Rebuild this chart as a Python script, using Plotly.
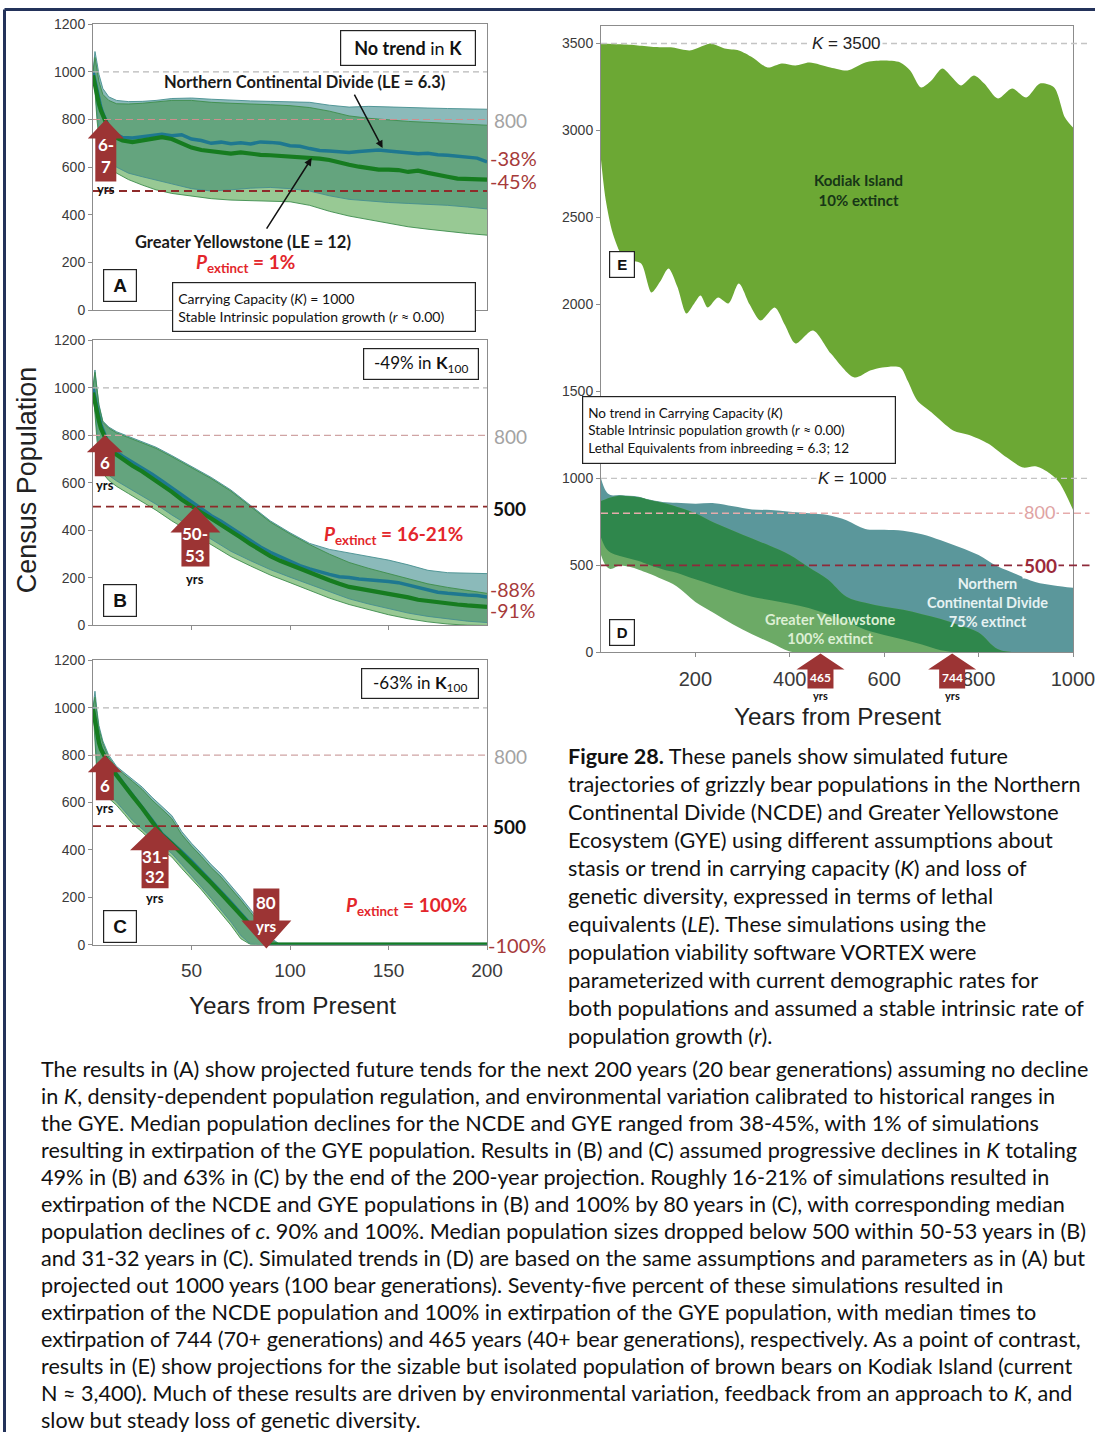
import numpy as np
import plotly.graph_objects as go

# Figure canvas; positions below are given in window pixels and mapped onto the canvas.
W, H = 1117, 1440
X_SPAN = 1095       # window pixels spanned by the canvas width
Y_SCALE = 0.98835   # window pixels per canvas pixel vertically
Y_OFF = 8           # body margin above the canvas (canvas pixels)


def px(x):
    return x / X_SPAN


def py(y):
    return 1 - (y / Y_SCALE - Y_OFF) / H


# ---------------------------------------------------------------- colours
TEAL_ONLY = "#8bbaba"
OVERLAP = "#64a47e"
GYE_ONLY = "#98c994"
TEAL_EDGE = "#468f90"
GREEN_EDGE = "#3d8c4d"
NCDE_LINE = "#1e7890"
GYE_LINE = "#167c20"
ARROW_RED = "#9c3434"
PCT_RED = "#a63a3a"
P_RED = "#e3262b"
D_TEAL = "#5b979b"
D_DARK = "#2f874c"
D_LIGHT = "#6caa66"
KODIAK = "#6ca834"

# ---------------------------------------------------------------- panel A: no trend in K
years_band_A = [0, 1, 2, 3, 5, 8, 12, 18, 25, 32, 40, 50, 60, 70, 80, 90, 100, 110, 120, 130, 140, 150, 160, 170, 180, 190, 200]
ncde_hi_A = [1000, 1085, 1040, 990, 930, 895, 880, 875, 876, 880, 888, 890, 885, 880, 878, 876, 875, 872, 860, 852, 855, 852, 848, 848, 846, 845, 843]
ncde_lo_A = [1000, 940, 830, 750, 665, 625, 600, 575, 560, 545, 530, 510, 500, 505, 512, 515, 510, 500, 480, 465, 458, 452, 448, 445, 440, 433, 425]
gye_hi_A = [1000, 1060, 1010, 960, 905, 880, 866, 865, 868, 875, 880, 880, 872, 868, 866, 862, 858, 850, 835, 815, 805, 798, 792, 788, 784, 780, 776]
gye_lo_A = [1000, 920, 800, 720, 640, 600, 575, 548, 525, 505, 490, 478, 468, 462, 460, 458, 455, 440, 415, 395, 380, 365, 350, 340, 330, 322, 315]

years_med = [0, 1, 2, 3, 4, 5, 6, 7, 8, 10, 15, 20, 25, 30, 35, 40, 45, 50, 55, 60, 65, 70, 75, 80, 85, 90, 95, 100,
             105, 110, 115, 120, 125, 130, 135, 140, 145, 150, 155, 160, 165, 170, 175, 180, 185, 190, 195, 200]
ncde_med_A = [1000, 960, 920, 880, 850, 825, 805, 790, 770, 745,
              724, 722, 728, 735, 738, 732, 736, 718, 712, 700,
              705, 698, 702, 697, 706, 704, 700, 690, 688, 678,
              670, 668, 666, 662, 666, 670, 672, 668, 664, 660,
              656, 658, 652, 650, 646, 643, 638, 622]
gye_med_A = [985, 940, 900, 865, 838, 818, 800, 780, 760, 730,
             712, 705, 712, 722, 726, 718, 700, 682, 672, 668,
             660, 657, 662, 656, 652, 650, 648, 645, 642, 640,
             636, 630, 618, 610, 602, 595, 590, 590, 588, 580,
             585, 576, 570, 560, 552, 550, 552, 548]

# ---------------------------------------------------------------- panel B: -49% in K
years_band_B = years_band_A
ncde_hi_B = [1000, 1075, 1000, 930, 860, 835, 815, 795, 775, 750, 715, 670, 623, 570, 505, 440, 390, 345, 320, 305, 290, 275, 255, 232, 222, 220, 218]
gye_hi_B = [1000, 1065, 995, 925, 855, 830, 810, 790, 770, 745, 710, 665, 618, 565, 500, 435, 385, 340, 300, 265, 240, 218, 195, 175, 160, 148, 135]
ncde_lo_B = [1000, 900, 800, 730, 662, 632, 608, 578, 545, 510, 465, 415, 362, 312, 272, 235, 203, 172, 140, 112, 90, 70, 52, 38, 27, 18, 12]
gye_lo_B = [1000, 880, 780, 710, 640, 610, 585, 555, 520, 485, 440, 390, 340, 290, 250, 212, 180, 148, 115, 88, 65, 45, 28, 15, 6, 1, 0]
ncde_med_B = [1000, 955, 915, 878, 845, 822, 800, 782, 765, 742,
              712, 688, 662, 636, 608, 578, 548, 518, 488, 462,
              438, 410, 382, 355, 330, 308, 288, 270, 252, 238,
              225, 215, 205, 202, 195, 192, 190, 185, 180, 170,
              160, 152, 140, 135, 130, 128, 126, 120]
gye_med_B = [980, 935, 895, 860, 830, 812, 795, 775, 755, 730,
             700, 672, 648, 620, 592, 562, 530, 500, 475, 450,
             425, 398, 370, 342, 316, 292, 272, 255, 238, 222,
             205, 190, 175, 162, 155, 148, 140, 135, 128, 118,
             108, 102, 98, 92, 88, 84, 80, 78]

# ---------------------------------------------------------------- panel C: -63% in K
years_band_C = [0, 1, 2, 3, 5, 8, 12, 16, 20, 25, 30, 35, 40, 45, 50, 55, 60, 65, 70, 75, 80, 85, 90, 95, 100, 150, 200]
ncde_hi_C = [1000, 1070, 990, 925, 860, 800, 752, 725, 700, 665, 622, 585, 545, 478, 428, 385, 338, 298, 250, 200, 148, 95, 30, 0, 0, 0, 0]
gye_hi_C = [1000, 1045, 975, 912, 850, 790, 745, 716, 690, 655, 610, 572, 532, 465, 416, 372, 325, 285, 238, 188, 136, 84, 20, 0, 0, 0, 0]
ncde_lo_C = [1000, 900, 740, 690, 660, 632, 602, 565, 525, 488, 450, 418, 385, 338, 292, 246, 196, 146, 96, 38, 2, 0, 0, 0, 0, 0, 0]
gye_lo_C = [1000, 880, 720, 675, 645, 618, 588, 550, 510, 475, 435, 402, 370, 322, 278, 232, 182, 132, 82, 25, 0, 0, 0, 0, 0, 0, 0]
years_med_C = [0, 1, 2, 3, 4, 5, 6, 7, 8, 10, 15, 20, 25, 30, 35, 40, 45, 50, 55, 60, 65, 70, 75, 80, 85, 90, 95, 100, 150, 200]
ncde_med_C = [1000, 945, 895, 858, 830, 812, 798, 782, 768, 742, 685, 632, 582, 525, 468, 432, 392, 352, 310, 265, 222, 178, 130, 86, 38, 2, 0, 0, 0, 0]
gye_med_C = [995, 940, 890, 852, 825, 808, 794, 778, 762, 736, 680, 628, 576, 518, 462, 426, 386, 346, 304, 260, 216, 172, 124, 80, 32, 0, 0, 0, 0, 0]

# ---------------------------------------------------------------- panel D: 1000-year projection
years_D = [0, 10, 20, 40, 60, 80, 100, 130, 160, 200, 240, 280, 320, 360, 400, 440, 480, 520, 560, 600,
           640, 680, 720, 760, 800, 840, 880, 920, 960, 1000]
ncde_hi_D = [1000, 930, 905, 905, 900, 895, 880, 865, 860, 855, 858, 840, 822, 818, 808, 800, 790, 760, 710, 705,
             700, 680, 645, 605, 560, 495, 450, 405, 385, 372]
ncde_lo_D = [660, 600, 575, 555, 540, 525, 505, 478, 458, 420, 385, 350, 320, 300, 280, 255, 220, 180, 130, 100,
             75, 45, 12, 0, 0, 0, 0, 0, 0, 0]
gye_hi_D = [870, 880, 890, 900, 898, 892, 878, 860, 838, 800, 745, 700, 655, 610, 560, 490, 420, 320, 285, 262,
            245, 220, 192, 155, 115, 20, 0, 0, 0, 0]
gye_lo_D = [560, 500, 480, 500, 492, 475, 455, 420, 380, 290, 225, 160, 105, 55, 5, 0, 0, 0, 0, 0,
            0, 0, 0, 0, 0, 0, 0, 0, 0, 0]

# ---------------------------------------------------------------- panel E: Kodiak Island
kodiak_hi_years = [0, 40, 78, 115, 152, 188, 210, 233, 262, 292, 321, 353, 383, 412, 442, 486, 522, 560, 596, 634,
                   655, 678, 700, 723, 744, 763, 790, 812, 841, 871, 901, 930, 960, 983, 1000]
kodiak_hi = [3500, 3495, 3489, 3480, 3477, 3460, 3480, 3500, 3471, 3460, 3420, 3362, 3385, 3374, 3391, 3362, 3345,
             3391, 3402, 3391, 3345, 3247, 3287, 3356, 3305, 3259, 3316, 3270, 3184, 3241, 3190, 3270, 3247, 3075, 3017]
kodiak_lo_years = [0, 10, 25, 45, 63, 85, 107, 125, 143, 162, 181, 196, 211, 226, 248, 270, 292, 315, 338, 368,
                   390, 412, 449, 487, 537, 570, 596, 634, 650, 670, 700, 746, 780, 820, 860, 894, 920, 945, 970, 1000]
kodiak_lo = [2830, 2600, 2408, 2280, 2253, 2236, 2069, 2130, 2207, 2100, 1948, 2000, 2052, 1983, 2040, 2006, 2121,
             2000, 1908, 1983, 1880, 1776, 1851, 1718, 1580, 1620, 1638, 1638, 1560, 1448, 1380, 1276, 1250, 1201,
             1120, 1063, 1070, 1040, 980, 820]

fig = go.Figure()


def add_fill(xs, lo, hi, color, xa, ya, shape="linear"):
    fig.add_trace(go.Scatter(x=xs, y=lo, mode="lines", line=dict(width=0, shape=shape),
                             hoverinfo="skip", showlegend=False, xaxis=xa, yaxis=ya))
    fig.add_trace(go.Scatter(x=xs, y=hi, mode="lines", line=dict(width=0, shape=shape), fill="tonexty",
                             fillcolor=color, hoverinfo="skip", showlegend=False, xaxis=xa, yaxis=ya))


def add_line(xs, ys, color, width, xa, ya, shape="linear"):
    fig.add_trace(go.Scatter(x=xs, y=ys, mode="lines", line=dict(color=color, width=width, shape=shape),
                             hoverinfo="skip", showlegend=False, xaxis=xa, yaxis=ya))


def add_panel(xs, n_hi, n_lo, g_hi, g_lo, xm, n_med, g_med, xa, ya):
    n_hi, n_lo, g_hi, g_lo = map(np.asarray, (n_hi, n_lo, g_hi, g_lo))
    ov_lo = np.maximum(n_lo, g_lo)
    ov_hi = np.maximum(np.minimum(n_hi, g_hi), ov_lo)
    add_fill(xs, n_lo, n_hi, TEAL_ONLY, xa, ya)
    add_fill(xs, g_lo, g_hi, GYE_ONLY, xa, ya)
    add_fill(xs, ov_lo, ov_hi, OVERLAP, xa, ya)
    for arr in (n_hi, n_lo):
        add_line(xs, arr, TEAL_EDGE, 0.9, xa, ya)
    for arr in (g_hi, g_lo):
        add_line(xs, arr, GREEN_EDGE, 0.9, xa, ya)
    add_line(xm, n_med, NCDE_LINE, 3.5, xa, ya)
    add_line(xm, g_med, GYE_LINE, 4.2, xa, ya)


add_panel(years_band_A, ncde_hi_A, ncde_lo_A, gye_hi_A, gye_lo_A, years_med, ncde_med_A, gye_med_A, "x", "y")
add_panel(years_band_B, ncde_hi_B, ncde_lo_B, gye_hi_B, gye_lo_B, years_med, ncde_med_B, gye_med_B, "x2", "y2")
add_panel(years_band_C, ncde_hi_C, ncde_lo_C, gye_hi_C, gye_lo_C, years_med_C, ncde_med_C, gye_med_C, "x3", "y3")

# panel D: NCDE only (teal), GYE only (light green), both (dark green)
dn_hi, dn_lo, dg_hi, dg_lo = map(np.asarray, (ncde_hi_D, ncde_lo_D, gye_hi_D, gye_lo_D))
d_ov_lo = np.maximum(dn_lo, dg_lo)
d_ov_hi = np.maximum(np.minimum(dn_hi, dg_hi), d_ov_lo)
add_fill(years_D, dn_lo, dn_hi, D_TEAL, "x4", "y4", "spline")
add_fill(years_D, dg_lo, dg_hi, D_LIGHT, "x4", "y4", "spline")
add_fill(years_D, d_ov_lo, d_ov_hi, D_DARK, "x4", "y4", "spline")

# panel E: Kodiak band
fig.add_trace(go.Scatter(x=kodiak_lo_years, y=kodiak_lo, mode="lines", line=dict(width=0, shape="spline", smoothing=0.8),
                         hoverinfo="skip", showlegend=False, xaxis="x4", yaxis="y4"))
fig.add_trace(go.Scatter(x=kodiak_hi_years, y=kodiak_hi, mode="lines", line=dict(width=0, shape="spline", smoothing=0.8),
                         fill="tonexty", fillcolor=KODIAK, hoverinfo="skip", showlegend=False, xaxis="x4", yaxis="y4"))

# ---------------------------------------------------------------- axes
RANGES = {"x": (0, 200), "y": (0, 1200), "x2": (0, 200), "y2": (0, 1200),
          "x3": (0, 200), "y3": (0, 1200), "x4": (0, 1000), "y4": (0, 3600)}


def dom(ax, v):
    lo, hi = RANGES[ax]
    return (v - lo) / (hi - lo)


AX_LINE = "#8c8c8c"
TICK_FONT = dict(family="Liberation Sans, Arial", size=14, color="#3a3a3a")
base = dict(showline=True, linecolor=AX_LINE, linewidth=1, mirror=True, ticks="outside", ticklen=4,
            tickcolor=AX_LINE, showgrid=False, zeroline=False, tickfont=TICK_FONT, fixedrange=True)

x_left = [px(93), px(487)]
layout_axes = {
    "xaxis": dict(base, domain=x_left, anchor="y", range=list(RANGES["x"]), tickvals=[50, 100, 150], showticklabels=False),
    "yaxis": dict(base, domain=[py(310), py(24)], anchor="x", range=list(RANGES["y"]), tickvals=list(range(0, 1201, 200))),
    "xaxis2": dict(base, domain=x_left, anchor="y2", range=list(RANGES["x2"]), tickvals=[50, 100, 150], showticklabels=False),
    "yaxis2": dict(base, domain=[py(625), py(340)], anchor="x2", range=list(RANGES["y2"]), tickvals=list(range(0, 1201, 200))),
    "xaxis3": dict(base, domain=x_left, anchor="y3", range=list(RANGES["x3"]), tickvals=[50, 100, 150, 200],
                   tickfont=dict(TICK_FONT, size=19), ticklabelstandoff=5),
    "yaxis3": dict(base, domain=[py(944), py(660)], anchor="x3", range=list(RANGES["y3"]), tickvals=list(range(0, 1201, 200))),
    "xaxis4": dict(base, domain=[px(601), px(1073)], anchor="y4", range=list(RANGES["x4"]),
                   tickvals=[200, 400, 600, 800, 1000], tickfont=dict(TICK_FONT, size=20), ticklabelstandoff=5),
    "yaxis4": dict(base, domain=[py(652), py(26)], anchor="x4", range=list(RANGES["y4"]), tickvals=list(range(0, 3501, 500))),
}

# ---------------------------------------------------------------- reference lines
shapes = []


def hline(xa, ya, y, color, width, dash, x1=1.0):
    shapes.append(dict(type="line", xref=f"{xa} domain", yref=ya, x0=0, x1=x1, y0=y, y1=y,
                       line=dict(color=color, width=width, dash=dash), layer="above"))


for xa, ya in (("x", "y"), ("x2", "y2"), ("x3", "y3")):
    hline(xa, ya, 1000, "#b8b8b8", 1.3, "6px,4px")
    hline(xa, ya, 800, "#d0a4a4" if xa != "x" else "#cf8f8f", 1.3 if xa != "x" else 1.0, "7px,4px")
    hline(xa, ya, 500, "#8e2a2a", 1.8, "8px,5px")

hline("x4", "y4", 3500, "#c4c4c4", 1.3, "6px,4px", 1.035)
hline("x4", "y4", 1000, "#c4c4c4", 1.3, "6px,4px", 1.035)
hline("x4", "y4", 800, "#e6abab", 1.5, "7px,4px", 1.035)
hline("x4", "y4", 500, "#8e2a3a", 1.8, "8px,5px", 1.035)


def block_arrow(xa, ya, x, y, hw, sw, hh, total, down=False, tip=0):
    """Block arrow anchored at a data point, sized in pixels (not clipped to the plot area)."""
    s = 1 if down else -1
    pts = [(0, tip), (hw, tip + s * hh), (sw, tip + s * hh), (sw, tip + s * total), (-sw, tip + s * total),
           (-sw, tip + s * hh), (-hw, tip + s * hh)]
    path = "M" + " L".join(f"{a},{b}" for a, b in pts) + " Z"
    shapes.append(dict(type="path", xref=f"{xa} domain", yref=f"{ya} domain", xsizemode="pixel", ysizemode="pixel",
                       xanchor=dom(xa, x), yanchor=dom(ya, y), path=path, fillcolor=ARROW_RED,
                       line=dict(width=0), layer="above"))


annotations = []


def arrow_text(xa, ya, x, y, text, shift, color="white", size=17):
    annotations.append(dict(xref=xa, yref=ya, x=x, y=y, yshift=shift, text=f"<b>{text}</b>", showarrow=False,
                            font=dict(family="Lato", size=size, color=color)))


# median-crossing arrows
block_arrow("x", "y", 6.5, 800, 18, 10.5, 19, 62)
arrow_text("x", "y", 6.5, 800, "6-", -25)
arrow_text("x", "y", 6.5, 800, "7", -47)
arrow_text("x", "y", 6.5, 800, "yrs", -70, "#111", 13)

block_arrow("x2", "y2", 6, 800, 18, 10, 17, 41)
arrow_text("x2", "y2", 6, 800, "6", -27)
arrow_text("x2", "y2", 6, 800, "yrs", -50, "#111", 13)
block_arrow("x2", "y2", 52, 500, 25, 14, 26, 60)
arrow_text("x2", "y2", 52, 500, "50-", -27)
arrow_text("x2", "y2", 52, 500, "53", -49)
arrow_text("x2", "y2", 52, 500, "yrs", -72, "#111", 13)

block_arrow("x3", "y3", 6, 800, 17, 9, 17, 45)
arrow_text("x3", "y3", 6, 800, "6", -30)
arrow_text("x3", "y3", 6, 800, "yrs", -53, "#111", 13)
block_arrow("x3", "y3", 31.5, 500, 25, 13.5, 24, 62)
arrow_text("x3", "y3", 31.5, 500, "31-", -30)
arrow_text("x3", "y3", 31.5, 500, "32", -50)
arrow_text("x3", "y3", 31.5, 500, "yrs", -72, "#111", 13)
block_arrow("x3", "y3", 88, 0, 25, 13, 28, 60, down=True, tip=-4)
arrow_text("x3", "y3", 88, 0, "80", 42)
arrow_text("x3", "y3", 88, 0, "yrs", 19, "white", 15)

block_arrow("x4", "y4", 465, 0, 24, 13, 16, 35, tip=-1)
arrow_text("x4", "y4", 465, 0, "465", -25, "white", 12)
arrow_text("x4", "y4", 465, 0, "yrs", -43, "#111", 11)
block_arrow("x4", "y4", 744, 0, 24, 13, 16, 35, tip=-1)
arrow_text("x4", "y4", 744, 0, "744", -25, "white", 12)
arrow_text("x4", "y4", 744, 0, "yrs", -43, "#111", 11)

# page frame
shapes.append(dict(type="line", xref="paper", yref="paper", x0=px(4.5), x1=1, y0=py(9.5), y1=py(9.5),
                   line=dict(color="#23325a", width=3)))
shapes.append(dict(type="line", xref="paper", yref="paper", x0=px(4.5), x1=px(4.5), y0=py(9.5), y1=0,
                   line=dict(color="#23325a", width=3)))


# ---------------------------------------------------------------- text labels
def label(x, y, text, size=15, color="#111", family="Lato", xanchor="center", **kw):
    annotations.append(dict(xref="paper", yref="paper", x=px(x), y=py(y), text=text, showarrow=False,
                            xanchor=xanchor, yanchor="middle", font=dict(family=family, size=size, color=color), **kw))


def boxed(x, y, text, w, h, size=17, family="Lato", align="center", pad=2):
    label(x, y, text, size=size, family=family, bordercolor="#222", borderwidth=1.2, borderpad=pad,
          bgcolor="white", width=w, height=h, align=align)


# panel A
boxed(408, 48, "<b>No trend</b> in <b>K</b>", 130, 30, size=18)
label(304, 82, "<b>Northern Continental Divide (LE = 6.3)</b>", 16.5, "#1a1a1a")
label(243, 242, "<b>Greater Yellowstone (LE = 12)</b>", 16.5, "#1a1a1a")
label(245, 263, "<b><i>P</i><sub>extinct</sub> = 1%</b>", 19, P_RED)
boxed(120, 285, "<b>A</b>", 28, 27, size=19, family="Liberation Sans")
boxed(324, 307, "Carrying Capacity (<i>K</i>) = 1000<br>Stable Intrinsic population growth (<i>r</i> ≈ 0.00)",
      292, 38, size=14, align="left", pad=5)
label(492, 120, "800", 19, "#a3a3a3", xanchor="left")
label(488, 158, "-38%", 20, PCT_RED, xanchor="left")
label(488, 181, "-45%", 20, PCT_RED, xanchor="left")

# pointer arrows to the two median lines
annotations.append(dict(xref="x", yref="y", x=147, y=680, ax=-29, ay=-55, text="", showarrow=True,
                        arrowhead=2, arrowsize=1, arrowwidth=1.5, arrowcolor="#111", axref="pixel", ayref="pixel"))
annotations.append(dict(xref="x", yref="y", x=111, y=638, ax=-46, ay=72, text="", showarrow=True,
                        arrowhead=2, arrowsize=1, arrowwidth=1.5, arrowcolor="#111", axref="pixel", ayref="pixel"))

# panel B
boxed(421, 364, "-49% in <b>K</b><sub>100</sub>", 110, 26, size=17)
label(492, 436, "800", 19, "#a3a3a3", xanchor="left")
label(491, 508, "<b>500</b>", 19, "#111", xanchor="left")
label(393, 535, "<b><i>P</i><sub>extinct</sub> = 16-21%</b>", 19, P_RED)
boxed(120, 600, "<b>B</b>", 28, 27, size=19, family="Liberation Sans")
label(488, 589, "-88%", 19.5, PCT_RED, xanchor="left")
label(488, 610, "-91%", 19.5, PCT_RED, xanchor="left")

# panel C
boxed(420, 683, "-63% in <b>K</b><sub>100</sub>", 112, 25, size=17)
label(492, 756, "800", 19, "#a3a3a3", xanchor="left")
label(491, 826, "<b>500</b>", 19, "#111", xanchor="left")
label(406, 905, "<b><i>P</i><sub>extinct</sub> = 100%</b>", 19, P_RED)
boxed(120, 926, "<b>C</b>", 28, 27, size=19, family="Liberation Sans")
label(486, 944, "-100%", 20, PCT_RED, xanchor="left")
label(292, 1005, "Years from Present", 24.3, "#222", family="Liberation Sans")
label(27, 480, "Census Population", 27, "#222", family="Liberation Sans", textangle=-90)

# panels D / E
label(846, 43, "<i>K</i> = 3500", 17, "#222", family="Liberation Sans", bgcolor="white")
label(858, 190, "<b>Kodiak Island<br>10% extinct</b>", 15, "#173617")
boxed(622, 264, "<b>E</b>", 20, 21, size=15, family="Liberation Sans")
boxed(739, 430, "No trend in Carrying Capacity (<i>K</i>)<br>Stable Intrinsic population growth (<i>r</i> ≈ 0.00)"
      "<br>Lethal Equivalents from inbreeding = 6.3; 12", 302, 56, size=13.5, align="left", pad=5)
label(853, 478, "<i>K</i> = 1000", 17, "#222", family="Liberation Sans", bgcolor="white")
label(1039, 512, "800", 18, "#e0a3a3", bgcolor="white")
label(1040, 565, "<b>500</b>", 19, "#9b2a3a", bgcolor="white")
label(987, 602, "<b>Northern<br>Continental Divide<br>75% extinct</b>", 14.5, "#e6f2f2")
label(830, 629, "<b>Greater Yellowstone<br>100% extinct</b>", 14.5, "#dcefd4")
boxed(622, 632, "<b>D</b>", 20, 21, size=15, family="Liberation Sans")
label(837, 716, "Years from Present", 24.3, "#222", family="Liberation Sans")

# ---------------------------------------------------------------- caption and body text
caption_lines = [
    "<b>Figure 28.</b> These panels show simulated future",
    "trajectories of grizzly bear populations in the Northern",
    "Continental Divide (NCDE) and Greater Yellowstone",
    "Ecosystem (GYE) using different assumptions about",
    "stasis or trend in carrying capacity (<i>K</i>) and loss of",
    "genetic diversity, expressed in terms of lethal",
    "equivalents (<i>LE</i>). These simulations using the",
    "population viability software VORTEX were",
    "parameterized with current demographic rates for",
    "both populations and assumed a stable intrinsic rate of",
    "population growth (<i>r</i>).",
]
for i, line in enumerate(caption_lines):
    label(566, 755 + 28 * i, line, 21.6, "#111", xanchor="left")

body_lines = [
    "The results in (A) show projected future tends for the next 200 years (20 bear generations) assuming no decline",
    "in <i>K</i>, density-dependent population regulation, and environmental variation calibrated to historical ranges in",
    "the GYE. Median population declines for the NCDE and GYE ranged from 38-45%, with 1% of simulations",
    "resulting in extirpation of the GYE population. Results in (B) and (C) assumed progressive declines in <i>K</i> totaling",
    "49% in (B) and 63% in (C) by the end of the 200-year projection. Roughly 16-21% of simulations resulted in",
    "extirpation of the NCDE and GYE populations in (B) and 100% by 80 years in (C), with corresponding median",
    "population declines of <i>c</i>. 90% and 100%. Median population sizes dropped below 500 within 50-53 years in (B)",
    "and 31-32 years in (C). Simulated trends in (D) are based on the same assumptions and parameters as in (A) but",
    "projected out 1000 years (100 bear generations). Seventy-five percent of these simulations resulted in",
    "extirpation of the NCDE population and 100% in extirpation of the GYE population, with median times to",
    "extirpation of 744 (70+ generations) and 465 years (40+ bear generations), respectively. As a point of contrast,",
    "results in (E) show projections for the sizable but isolated population of brown bears on Kodiak Island (current",
    "N ≈ 3,400). Much of these results are driven by environmental variation, feedback from an approach to <i>K</i>, and",
    "slow but steady loss of genetic diversity.",
]
for i, line in enumerate(body_lines):
    label(39, 1068 + 27.0 * i, line, 21.6, "#111", xanchor="left")

fig.update_layout(
    width=W, height=H, margin=dict(l=0, r=0, t=0, b=0),
    paper_bgcolor="white", plot_bgcolor="white", showlegend=False,
    font=dict(family="Lato, Liberation Sans", color="#111"),
    shapes=shapes, annotations=annotations, **layout_axes,
)

fig.write_html("out.html")
